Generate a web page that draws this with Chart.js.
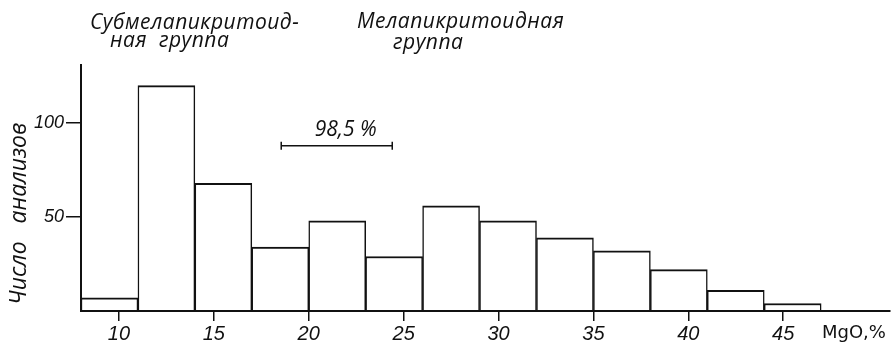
<!DOCTYPE html>
<html><head><meta charset="utf-8">
<script src="https://cdn.jsdelivr.net/npm/chart.js@4/dist/chart.umd.min.js"></script>
<style>html,body{margin:0;padding:0;background:#fff;} canvas{display:block;}</style>
</head><body>
<canvas id="c" width="895" height="346"></canvas>
<script>
// ---- data ----
const binStarts = [8, 11, 14, 17, 20, 23, 26, 29, 32, 35, 38, 41, 44];
const binWidth = 3;
const counts = [7, 120, 68, 34, 48, 29, 56, 48, 39, 32, 22, 11, 4];
const xTicks = [10, 15, 20, 25, 30, 35, 40, 45];
const yTicks = [50, 100];
const rangeLine = [18.55, 24.4];
const rangeLevel = 88;
const rangeLabel = '98,5 %';
const groupLabels = [['Субмелапикритоид-', 'ная  группа'], ['Мелапикритоидная', 'группа']];
const xTitle = 'MgO,%';
const yTitle = ' Число   анализов';

const INK = '#111';
const textFont = '"Open Sans", "DejaVu Sans", sans-serif';
const numFont = '"Liberation Sans", Arial, sans-serif';

const textPlugin = {
  id: 'texts',
  afterDraw(chart) {
    const ctx = chart.ctx, xs = chart.scales.x, ys = chart.scales.y;
    ctx.save();
    ctx.fillStyle = INK;
    ctx.textBaseline = 'alphabetic';
    ctx.textAlign = 'left';
    ctx.font = 'italic 21px ' + textFont;
    try { ctx.letterSpacing = '0.5px'; } catch (e) {}
    ctx.fillText(groupLabels[0][0], 90, 29);
    ctx.fillText(groupLabels[0][1], 110, 47);
    ctx.fillText(groupLabels[1][0], 357, 28);
    ctx.fillText(groupLabels[1][1], 393, 49);
    ctx.font = 'italic 21px ' + textFont;
    try { ctx.letterSpacing = '0px'; } catch (e) {}
    ctx.textAlign = 'center';
    const cx = (xs.getPixelForValue(rangeLine[0]) + xs.getPixelForValue(rangeLine[1])) / 2;
    ctx.fillText(rangeLabel, cx + 9, ys.getPixelForValue(rangeLevel) - 10);
    ctx.font = '18px "DejaVu Sans", sans-serif';
    ctx.textAlign = 'left';
    ctx.fillText(xTitle, 822, 338);
    ctx.restore();
  }
};

new Chart(document.getElementById('c'), {
  data: {
    datasets: [
      {
        type: 'bar',
        data: binStarts.map((s, i) => ({ x: s + binWidth / 2, y: counts[i] })),
        backgroundColor: '#fff',
        borderColor: INK,
        borderWidth: { top: 2, left: 1.5, right: 1.5, bottom: 0 },
        borderSkipped: false,
        barPercentage: 1,
        categoryPercentage: 1,
        order: 2
      },
      {
        type: 'line',
        data: rangeLine.map(v => ({ x: v, y: rangeLevel })),
        borderColor: INK,
        borderWidth: 1.5,
        pointStyle: 'line',
        rotation: 90,
        pointRadius: 4,
        pointBorderColor: INK,
        pointBorderWidth: 1.5,
        fill: false,
        order: 1
      }
    ]
  },
  options: {
    responsive: false,
    animation: false,
    events: [],
    layout: { padding: { top: 65, right: 2, left: 0, bottom: 0 } },
    plugins: { legend: { display: false }, tooltip: { enabled: false }, title: { display: false } },
    scales: {
      x: {
        type: 'linear',
        offset: false,
        min: 8,
        max: 50.6,
        afterBuildTicks: s => { s.ticks = xTicks.map(v => ({ value: v })); },
        afterFit: s => { s.height = 35; },
        border: { display: true, color: INK, width: 2, z: 1 },
        grid: { display: true, offset: false, drawOnChartArea: false, drawTicks: true, tickLength: 10, color: INK, lineWidth: 1.5 },
        ticks: { color: INK, font: { family: numFont, size: 20, style: 'italic' }, padding: 1, maxRotation: 0 }
      },
      y: {
        type: 'linear',
        min: 0,
        max: 131,
        afterBuildTicks: s => { s.ticks = yTicks.map(v => ({ value: v })); },
        afterFit: s => { s.width = 81; },
        border: { display: true, color: INK, width: 2, z: 1 },
        grid: { display: true, drawOnChartArea: false, drawTicks: true, tickLength: 15, color: INK, lineWidth: 1.5 },
        ticks: { color: INK, font: { family: numFont, size: 18, style: 'italic' }, padding: 2 },
        title: { display: true, text: yTitle, align: 'start', color: INK, font: { family: textFont, size: 23, style: 'italic' }, padding: { top: 6, bottom: 0 } }
      }
    }
  },
  plugins: [textPlugin]
});
</script>
</body></html>
